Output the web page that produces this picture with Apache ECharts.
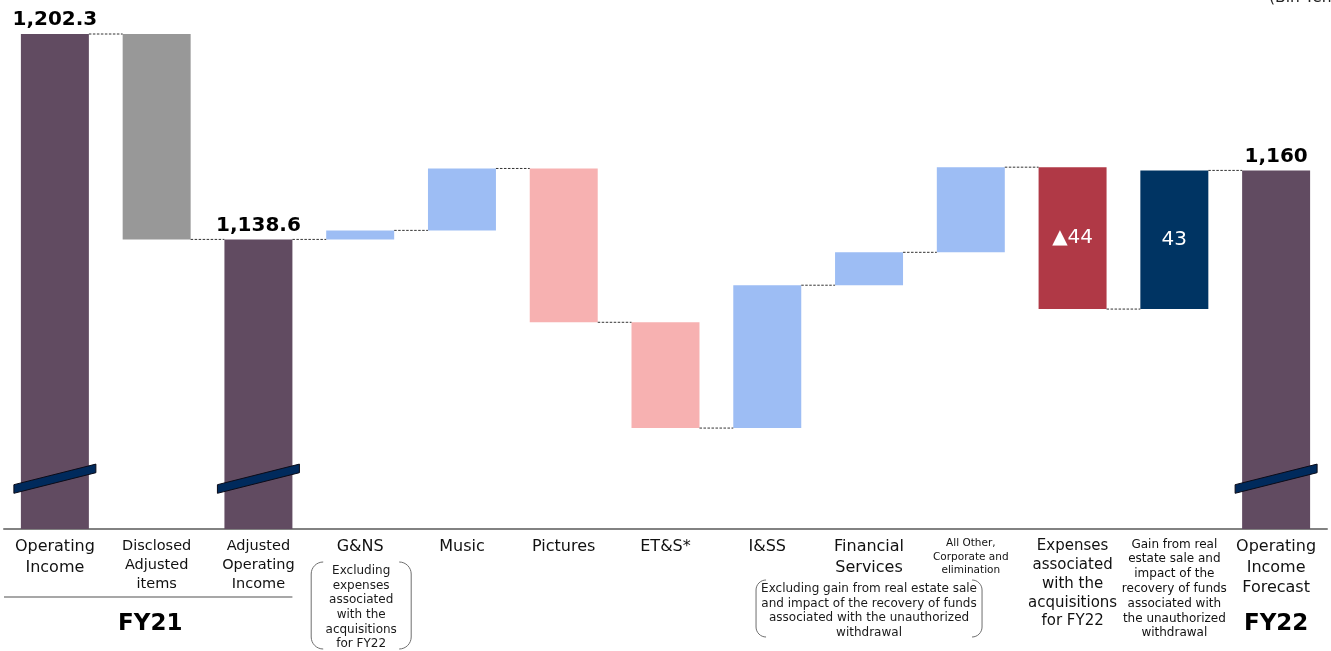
<!DOCTYPE html>
<html>
<head>
<meta charset="utf-8">
<script src="https://cdn.jsdelivr.net/npm/echarts@6/dist/echarts.min.js"></script>
<style>
  html, body { margin: 0; padding: 0; background: #ffffff; }
  #chart { width: 1331px; height: 651px; }
</style>
</head>
<body>
<div id="chart"></div>
<script>
// Operating income bridge, FY21 -> FY22 forecast (Bln Yen)
const categories = [
  'Operating\nIncome',
  'Disclosed\nAdjusted\nitems',
  'Adjusted\nOperating\nIncome',
  'G&NS',
  'Music',
  'Pictures',
  'ET&S*',
  'I&SS',
  'Financial\nServices',
  'All Other,\nCorporate and\nelimination',
  'Expenses\nassociated\nwith the\nacquisitions\nfor FY22',
  'Gain from real\nestate sale and\nimpact of the\nrecovery of funds\nassociated with\nthe unauthorized\nwithdrawal',
  'Operating\nIncome\nForecast'
];
// text style used for each category label
const labelSizes = ['big', 'mid', 'mid', 'seg', 'seg', 'seg', 'seg', 'seg', 'seg', 'tiny', 'exp', 'small', 'big'];
// bar kind: totals stand on the axis, the others float between running totals
const kinds = ['total', 'adjust', 'total', 'up', 'up', 'down', 'down', 'up', 'up', 'up', 'expense', 'gain', 'total'];
const totals = [1202.3, null, 1138.6, null, null, null, null, null, null, null, null, null, 1160];
const changes = [null, -63.7, null, 2.8, 19.2, -47.7, -32.8, 44.3, 10.2, 26.4, -44, 43, null];
// bars carrying a value label
const labelled = [0, 2, 10, 11, 12];

const noteSegment = ['Excluding', 'expenses', 'associated', 'with the', 'acquisitions', 'for FY22'];
const noteServices = ['Excluding gain from real estate sale', 'and impact of the recovery of funds', 'associated with the unauthorized', 'withdrawal'];
const unitText = '(Bln Yen)';

// value axis window (the axis is broken below the visible range)
const Y_MIN = 1048.8;
const Y_MAX = 1202.3;
const BREAK_AT = 1064.4;
const BAR_RATIO = 0.668;
const FONT = 'DejaVu Sans, Verdana, sans-serif';

const colors = {
  total: '#614b61',
  adjust: '#989898',
  up: '#9dbdf4',
  down: '#f7b1b1',
  expense: '#b03946',
  gain: '#003463'
};

// running totals -> floating bars
const barData = [];
const levels = [];
let level = 0;
categories.forEach((c, i) => {
  let lo, hi;
  if (kinds[i] === 'total') {
    level = totals[i];
    lo = Y_MIN; hi = level;
  } else {
    const next = +(level + changes[i]).toFixed(1);
    lo = Math.min(level, next); hi = Math.max(level, next);
    level = next;
  }
  levels.push(level);
  barData.push({ value: [i, lo, hi], itemStyle: { color: colors[kinds[i]] } });
});

function valueLabel(i) {
  if (kinds[i] === 'total') {
    return totals[i].toLocaleString('en-US', { maximumFractionDigits: 1 });
  }
  const d = changes[i];
  return (d < 0 ? '\u25B2' : '') + Math.abs(d).toLocaleString('en-US', { maximumFractionDigits: 1 });
}

const connectorData = levels.slice(0, -1).map((v, i) => [i, v]);
const breakData = kinds.map((k, i) => k === 'total' ? [i, BREAK_AT] : null).filter(Boolean);

const chart = echarts.init(document.getElementById('chart'));

const option = {
  animation: false,
  backgroundColor: '#ffffff',
  grid: { left: 4, right: 4, top: 34, bottom: 122, containLabel: false },
  xAxis: {
    type: 'category',
    data: categories,
    axisLine: { show: true, lineStyle: { color: '#828282', width: 2 } },
    axisTick: { show: false },
    axisLabel: {
      interval: 0,
      margin: 8,
      color: '#111111',
      fontFamily: FONT,
      formatter: (v, i) => '{' + labelSizes[i] + '|' + v + '}',
      rich: {
        big:   { fontSize: 16, lineHeight: 20.5, fontFamily: FONT, color: '#111' },
        mid:   { fontSize: 14.5, lineHeight: 18.7, fontFamily: FONT, color: '#111' },
        seg:   { fontSize: 16, lineHeight: 20.5, fontFamily: FONT, color: '#111' },
        tiny:  { fontSize: 10.5, lineHeight: 13.5, fontFamily: FONT, color: '#111' },
        exp:   { fontSize: 15, lineHeight: 18.8, fontFamily: FONT, color: '#111' },
        small: { fontSize: 12, lineHeight: 14.8, fontFamily: FONT, color: '#111' }
      }
    },
    splitLine: { show: false }
  },
  yAxis: {
    type: 'value',
    min: Y_MIN,
    max: Y_MAX,
    show: false,
    splitLine: { show: false }
  },
  series: [
    {
      // floating and total bars with their value labels
      type: 'custom',
      name: 'bars',
      z: 2,
      encode: { x: 0, y: [1, 2] },
      data: barData,
      renderItem(params, api) {
        const i = api.value(0);
        const lo = api.coord([i, api.value(1)]);
        const hi = api.coord([i, api.value(2)]);
        const w = api.size([1, 0])[0] * BAR_RATIO;
        const children = [{
          type: 'rect',
          shape: { x: lo[0] - w / 2, y: hi[1], width: w, height: lo[1] - hi[1] },
          style: { fill: api.visual('color') }
        }];
        if (labelled.indexOf(i) >= 0) {
          if (kinds[i] === 'total') {
            children.push({
              type: 'text', x: lo[0], y: hi[1] - 4,
              style: { text: valueLabel(i), fill: '#000', fontSize: 20, fontWeight: 'bold', fontFamily: FONT, align: 'center', verticalAlign: 'bottom' }
            });
          } else {
            children.push({
              type: 'text', x: lo[0], y: (lo[1] + hi[1]) / 2,
              style: { text: valueLabel(i), fill: '#ffffff', fontSize: 20, fontFamily: FONT, align: 'center', verticalAlign: 'middle' }
            });
          }
        }
        return { type: 'group', children };
      }
    },
    {
      // dashed connectors between neighbouring bars
      type: 'custom',
      name: 'connectors',
      z: 3,
      encode: { x: 0, y: 1 },
      data: connectorData,
      renderItem(params, api) {
        const i = api.value(0);
        const v = api.value(1);
        const p = api.coord([i, v]);
        const q = api.coord([i + 1, v]);
        const w = api.size([1, 0])[0] * BAR_RATIO;
        return {
          type: 'line',
          shape: { x1: p[0] + w / 2, y1: p[1], x2: q[0] - w / 2, y2: q[1] },
          style: { stroke: '#333333', lineWidth: 1, lineDash: [2.5, 1.5] }
        };
      }
    },
    {
      // axis-break marks across the total bars
      type: 'custom',
      name: 'breaks',
      z: 4,
      encode: { x: 0, y: 1 },
      data: breakData,
      renderItem(params, api) {
        const c = api.coord([api.value(0), api.value(1)]);
        const hw = api.size([1, 0])[0] * BAR_RATIO / 2 + 7;
        const rise = 10.3, t = 4.3;
        return {
          type: 'polygon',
          shape: { points: [
            [c[0] - hw, c[1] + rise - t], [c[0] + hw, c[1] - rise - t],
            [c[0] + hw, c[1] - rise + t], [c[0] - hw, c[1] + rise + t]
          ] },
          style: { fill: '#002a5c', stroke: '#0b0b18', lineWidth: 1 }
        };
      }
    }
  ]
};

chart.setOption(option);

// annotations placed from the category positions
const cx = i => chart.convertToPixel({ xAxisIndex: 0 }, i);
const band = cx(1) - cx(0);
const barHalf = band * BAR_RATIO / 2;

function arcPoints(ox, oy, r, a0, a1, n) {
  const pts = [];
  for (let k = 0; k <= n; k++) {
    const a = a0 + (a1 - a0) * k / n;
    pts.push([ox + r * Math.cos(a), oy + r * Math.sin(a)]);
  }
  return pts;
}
function bracketPair(left, right, top, bottom, r) {
  const L = [].concat(
    arcPoints(left + r, top + r, r, -Math.PI / 2, -Math.PI, 8),
    arcPoints(left + r, bottom - r, r, Math.PI, Math.PI / 2, 8)
  );
  const R = [].concat(
    arcPoints(right - r, top + r, r, -Math.PI / 2, 0, 8),
    arcPoints(right - r, bottom - r, r, 0, Math.PI / 2, 8)
  );
  const style = { stroke: '#6e6e6e', lineWidth: 1, fill: null };
  return [
    { type: 'polyline', shape: { points: L }, style },
    { type: 'polyline', shape: { points: R }, style }
  ];
}
function noteText(x, y, lines, size, lh) {
  return {
    type: 'text', x, y,
    style: { text: lines.join('\n'), fill: '#1a1a1a', fontSize: size, lineHeight: lh, fontFamily: FONT, align: 'center', verticalAlign: 'middle' }
  };
}

const fyLeft = cx(0) - band / 2;
const fyRight = cx(2) + barHalf;
const segX = cx(3);
const fsX = cx(8);

const graphics = [
  { type: 'line', shape: { x1: fyLeft, y1: 597, x2: fyRight, y2: 597 }, style: { stroke: '#8a8a8a', lineWidth: 1.3 } },
  { type: 'text', x: (fyLeft + fyRight) / 2 + 2, y: 624.5, style: { text: 'FY21', fill: '#000', fontSize: 23, fontWeight: 'bold', fontFamily: FONT, align: 'center', verticalAlign: 'middle' } },
  { type: 'text', x: cx(12), y: 624, style: { text: 'FY22', fill: '#000', fontSize: 23, fontWeight: 'bold', fontFamily: FONT, align: 'center', verticalAlign: 'middle' } },
  noteText(segX + 1, 607.5, noteSegment, 12, 14.6),
  noteText(fsX, 611, noteServices, 12, 14.7),
  { type: 'text', x: 1269, y: 6, style: { text: unitText, fill: '#222', fontSize: 15.5, fontFamily: FONT, align: 'left', verticalAlign: 'bottom' } }
].concat(
  bracketPair(segX - 49, segX + 51, 562, 649, 12),
  bracketPair(fsX - 113, fsX + 113, 580, 637, 10)
);

chart.setOption({ graphic: { elements: graphics } });
</script>
</body>
</html>
